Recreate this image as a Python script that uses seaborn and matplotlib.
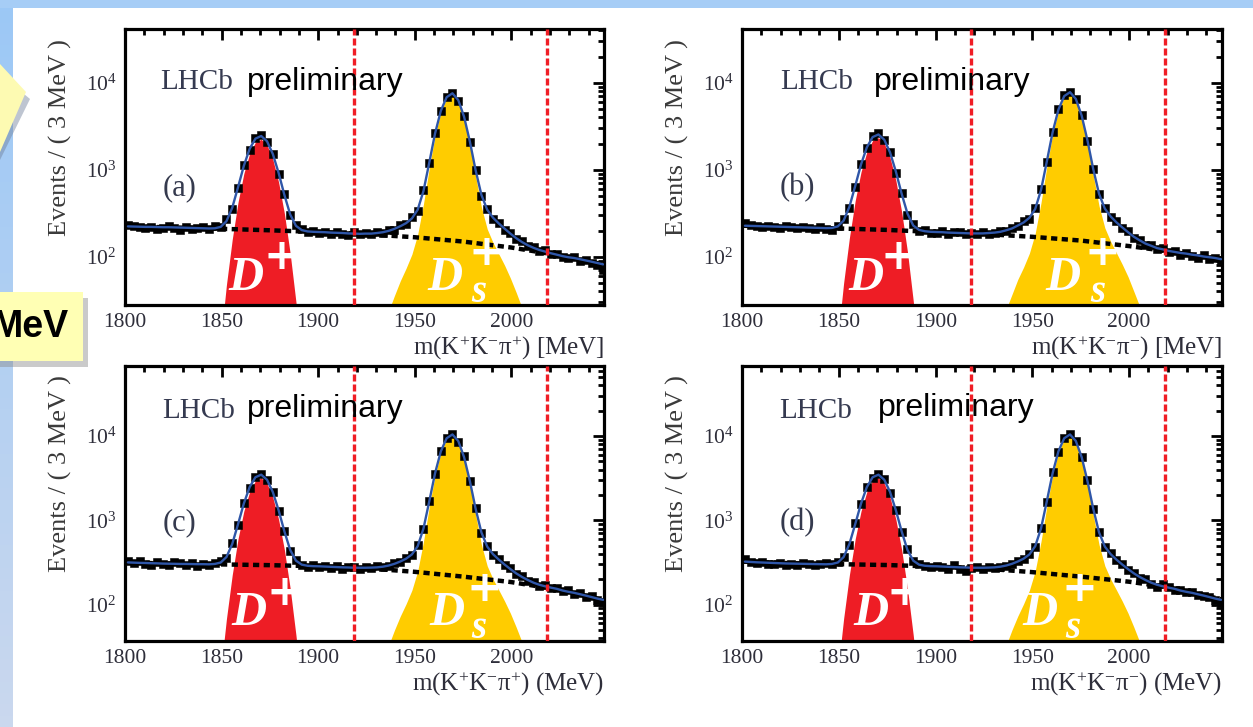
import numpy as np
import matplotlib
matplotlib.use("Agg")
import matplotlib.pyplot as plt
import seaborn as sns
from matplotlib.ticker import MultipleLocator, LogLocator, NullFormatter
from matplotlib.patches import Rectangle, Polygon
from matplotlib.colors import LinearSegmentedColormap

# ---------------- data (3 MeV bins, 1800-2049 MeV) ----------------
bin_width = 3.0
bin_centers = np.arange(1801.5, 2048.0, bin_width)   # 83 bins

data_a = [232, 226, 218, 214, 222, 210, 216, 224, 212, 205, 219, 208, 216, 221, 209,
          224, 218, 270, 352, 618, 1130, 1710, 2310, 2490, 2090, 1540, 905, 530, 300, 232, 208, 191, 199,
          188, 195, 184, 192, 183, 178, 192,
          181, 190, 182, 193, 186, 203, 206, 231, 240, 284, 340, 585, 1190, 2650, 4720, 6950,
          7650, 6250, 4150, 2090, 1005, 505, 356, 275, 248, 206, 190, 160, 152, 132, 130, 117, 119, 107, 109,
          100, 97, 99, 90, 93, 84, 80, 70]
fit_a = [224, 223, 222, 221, 221, 220, 219, 219, 218, 217, 216, 215, 214, 213, 212,
         213, 221, 257, 367, 632, 1112, 1742, 2283, 2447, 2130, 1522, 922, 514, 307, 227, 203, 196, 194,
         193, 192, 190, 189, 188, 186, 185,
         184, 185, 185, 188, 192, 199, 210, 225, 244, 276, 348, 571, 1210, 2618, 4774, 6828,
         7576, 6337, 4093, 2123, 989, 515, 348, 282, 242, 211, 185, 164, 148, 136, 127, 120, 115, 110, 106,
         102, 99, 97, 94, 91, 88, 85, 82]

data_b = [245, 230, 224, 219, 228, 221, 215, 226, 219, 212, 222, 216, 208, 220, 211,
          205, 229, 272, 360, 640, 1180, 1790, 2420, 2620, 2180, 1610, 930, 545, 305, 236, 199, 203, 190,
          186, 196, 183, 191, 193, 181, 189,
          182, 193, 184, 187, 199, 196, 216, 224, 256, 275, 362, 598, 1230, 2740, 4980, 7150,
          7900, 6450, 4280, 2150, 1030, 522, 366, 284, 256, 212, 196, 166, 158, 137, 138, 124, 126, 113, 117,
          106, 111, 102, 98, 104, 95, 97, 91]
fit_b = [228, 227, 226, 225, 224, 223, 222, 221, 220, 219, 218, 217, 216, 215, 214,
         215, 224, 261, 376, 653, 1155, 1813, 2378, 2548, 2219, 1583, 956, 530, 314, 229, 204, 197, 194,
         193, 192, 190, 189, 188, 187, 186,
         186, 186, 188, 190, 194, 202, 212, 229, 248, 281, 355, 585, 1243, 2694, 4914, 7031,
         7801, 6526, 4214, 2186, 1018, 530, 358, 291, 249, 218, 192, 170, 155, 142, 134, 126, 122, 117, 114,
         111, 109, 106, 104, 101, 99, 97, 94]

data_c = [330, 312, 325, 305, 298, 318, 302, 295, 322, 308, 296, 310, 290, 305, 299,
          312, 330, 360, 540, 880, 1610, 2450, 3310, 3560, 2990, 2200, 1290, 755, 430, 340, 292, 281, 292,
          276, 288, 272, 291, 268, 280, 282,
          268, 281, 270, 285, 276, 290, 312, 318, 362, 385, 505, 785, 1710, 3560, 6700, 9600,
          10600, 8600, 5750, 2900, 1400, 705, 495, 390, 350, 292, 270, 230, 218, 192, 186, 168, 170, 156, 158,
          145, 148, 135, 138, 124, 126, 115, 108]
fit_c = [317, 315, 313, 312, 310, 309, 307, 306, 305, 304, 304, 303, 302, 302, 301,
         304, 316, 367, 525, 902, 1585, 2482, 3251, 3485, 3036, 2171, 1319, 739, 445, 332, 298, 289, 286,
         285, 283, 281, 279, 277, 276, 274,
         274, 274, 275, 277, 282, 291, 305, 325, 351, 394, 493, 800, 1681, 3624, 6598, 9432,
         10464, 8753, 5655, 2938, 1373, 719, 488, 397, 342, 299, 264, 235, 213, 196, 182, 172, 165, 159, 154,
         147, 142, 138, 133, 128, 123, 118, 114]

data_d = [345, 318, 310, 322, 305, 300, 316, 298, 304, 296, 308, 300, 292, 303, 311,
          300, 322, 372, 515, 920, 1560, 2520, 3200, 3540, 3080, 2130, 1340, 720, 455, 325, 305, 284, 278,
          290, 282, 268, 296, 266, 252, 270,
          278, 266, 283, 272, 280, 286, 300, 330, 345, 402, 480, 815, 1650, 3700, 6500, 9500,
          10700, 8800, 5600, 2980, 1350, 735, 480, 405, 336, 305, 258, 240, 208, 200, 178, 160, 174, 162, 150,
          149, 140, 141, 130, 126, 122, 112, 104]
fit_d = [324, 321, 318, 316, 314, 312, 310, 308, 307, 306, 305, 304, 303, 302, 301,
         304, 316, 367, 525, 902, 1585, 2482, 3251, 3485, 3036, 2171, 1319, 739, 445, 332, 298, 289, 286,
         285, 283, 281, 279, 277, 276, 274,
         274, 274, 275, 277, 282, 291, 305, 325, 351, 394, 493, 800, 1681, 3624, 6598, 9432,
         10464, 8753, 5655, 2938, 1373, 719, 488, 397, 342, 299, 264, 235, 213, 196, 182, 172, 165, 159, 154,
         147, 142, 138, 133, 128, 123, 118, 114]

# combinatorial background component (dotted)
bkg_x = [1800, 1825, 1850, 1875, 1900, 1925, 1950, 1975, 2000, 2025, 2050]
bkg_a = [224, 218, 210, 202, 193, 182, 168, 150, 128, 104, 80]
bkg_b = [228, 220, 212, 204, 193, 183, 170, 154, 133, 112, 92]
bkg_c = [318, 305, 300, 294, 285, 270, 245, 215, 185, 150, 110]
bkg_d = [325, 310, 302, 295, 283, 268, 243, 215, 187, 155, 112]

# signal components (filled): D+ on bins 15..31, Ds+ on bins 41..71
dp_a = [2, 11, 48, 159, 425, 906, 1537, 2079, 2243, 1928, 1321, 722, 315, 109, 30, 7, 1.2]
dp_b = [2, 11.5, 50, 166, 444, 947, 1606, 2173, 2344, 2015, 1380, 754, 329, 114, 31, 7, 1.3]
dp_c = [3, 16, 68, 226, 604, 1288, 2186, 2956, 3190, 2742, 1878, 1027, 448, 155, 43, 10, 2]
dp_d = [3, 16, 68, 226, 604, 1288, 2186, 2956, 3190, 2742, 1878, 1027, 448, 155, 43, 10, 2]
ds_a = [3, 5.4, 9.3, 15, 24, 36, 53, 74, 107, 181, 406, 1047, 2457, 4615, 6672, 7422, 6185, 3943,
        1976, 845, 373, 209, 146, 108, 80, 57, 39, 26, 16.6, 10.3, 6.1]
ds_b = [3.1, 5.6, 9.6, 15.5, 25, 37, 55, 76, 110, 186, 418, 1078, 2531, 4753, 6872, 7645, 6371, 4061,
        2035, 870, 384, 215, 150, 111, 82, 59, 40, 27, 17, 10.6, 6.3]
ds_c = [4.1, 7.5, 12.8, 20.7, 33, 50, 73, 102, 148, 250, 560, 1445, 3391, 6369, 9207, 10242, 8535, 5441,
        2727, 1166, 515, 288, 201, 149, 110, 79, 54, 36, 23, 14.2, 8.4]
ds_d = [4.1, 7.5, 12.8, 20.7, 33, 50, 73, 102, 148, 250, 560, 1445, 3391, 6369, 9207, 10242, 8535, 5441,
        2727, 1166, 515, 288, 201, 149, 110, 79, 54, 36, 23, 14.2, 8.4]

window_lines = [1918.5, 2018.5]
x_ticks_major = [1800, 1850, 1900, 1950, 2000]
tags = ["(a)", "(b)", "(c)", "(d)"]
xlabels = ["m(K$^{+}$K$^{-}$π$^{+}$) [MeV]", "m(K$^{+}$K$^{-}$π$^{-}$) [MeV]",
           "m(K$^{+}$K$^{-}$π$^{+}$) (MeV)", "m(K$^{+}$K$^{-}$π$^{-}$) (MeV)"]
ylabel = "Events / ( 3 MeV )"

# ---------------- style ----------------
sns.set_theme(style="white")
plt.rcParams["font.family"] = ["Liberation Serif", "DejaVu Serif"]
plt.rcParams["mathtext.fontset"] = "custom"
plt.rcParams["mathtext.rm"] = "Liberation Serif"
plt.rcParams["mathtext.it"] = "Liberation Serif:italic"
plt.rcParams["mathtext.bf"] = "Liberation Serif:bold"

fig = plt.figure(figsize=(12.53, 7.27), dpi=100)
fig.patch.set_facecolor("white")

# slide decoration (background)
deco = fig.add_axes([0, 0, 1, 1], zorder=-10)
grad = np.linspace(0, 1, 64).reshape(-1, 1)
side_cmap = LinearSegmentedColormap.from_list("side", ["#9cc8f6", "#cad8ee"])
deco.imshow(grad, extent=[0, 13, 727, 0], cmap=side_cmap, aspect="auto")
deco.add_patch(Rectangle((0, 0), 1253, 8, color="#a6cdf6", lw=0))
deco.add_patch(Polygon([(0, 74), (30, 99), (0, 160)], closed=True, color="#6f7f99", alpha=0.45, lw=0))
deco.add_patch(Polygon([(0, 64), (26, 92), (0, 152)], closed=True, color="#fdfab2", lw=0))
deco.add_patch(Rectangle((0, 298), 88, 69, color="#8a8a8a", alpha=0.45, lw=0))
deco.add_patch(Rectangle((0, 292), 83, 69, color="#ffffb4", lw=0))
deco.text(69, 327, "MeV", ha="right", va="center", fontsize=27, fontweight="bold",
          family="Liberation Sans", color="black")
deco.set_xlim(0, 1253)
deco.set_ylim(727, 0)
deco.axis("off")

positions = [[0.0998, 0.5805, 0.3823, 0.3796], [0.5922, 0.5805, 0.3830, 0.3796],
             [0.0998, 0.1183, 0.3823, 0.3783], [0.5922, 0.1183, 0.3830, 0.3783]]
ylims = [(28, 41500), (28, 41500), (37, 68000), (37, 68000)]
datas = [data_a, data_b, data_c, data_d]
fits = [fit_a, fit_b, fit_c, fit_d]
bkgs = [bkg_a, bkg_b, bkg_c, bkg_d]
dps = [dp_a, dp_b, dp_c, dp_d]
dss = [ds_a, ds_b, ds_c, ds_d]

# text placement: (x in MeV, y in axes fraction)
tag_pos = [(1819.5, 0.424), (1819.5, 0.424), (1819.5, 0.43), (1819.5, 0.43)]
lhcb_pos = [(1818, 0.808), (1819.5, 0.808), (1819, 0.835), (1819, 0.838)]
prel_pos = [(1863, 0.808), (1868, 0.808), (1863, 0.845), (1870, 0.848)]
dpD_x = [1853.3, 1854.8, 1854.8, 1857.4]
dpP_x = [1881, 1881, 1882.5, 1884]
dsD_x = [1956.7, 1956.7, 1957.8, 1944.9]
dsP_x = [1987, 1986, 1986, 1974.3]
dsS_x = [1983, 1984, 1983, 1971]

tick_col = "#2e2e3a"
for i in range(4):
    ax = fig.add_axes(positions[i])
    ax.set_facecolor("white")
    ax.set_yscale("log")
    dfx = bin_centers
    # signal fills
    ax.fill_between(dfx[15:32], 1, dps[i], color="#ee1d25", lw=0, zorder=1)
    ax.fill_between(dfx[41:72], 1, dss[i], color="#ffcc00", lw=0, zorder=1)
    # background component
    ax.plot(bkg_x, bkgs[i], color="black", lw=3.2, dashes=(1.4, 1.0), zorder=3)
    # data points
    sns.scatterplot(x=dfx, y=datas[i], ax=ax, marker="s", s=40, color="black",
                    edgecolor="black", linewidth=0.4, zorder=4, legend=False)
    # total fit
    sns.lineplot(x=dfx, y=fits[i], ax=ax, color="#2f56a8", lw=1.7, zorder=5, legend=False)
    # mass window lines
    for xv in window_lines:
        ax.axvline(xv, color="#f01d25", lw=2.4, dashes=(2.1, 0.9), zorder=6)

    ax.set_xlim(1800, 2048)
    ax.set_ylim(*ylims[i])
    ax.xaxis.set_major_locator(plt.FixedLocator(x_ticks_major))
    ax.xaxis.set_minor_locator(MultipleLocator(10))
    ax.yaxis.set_major_locator(LogLocator(base=10, numticks=10))
    ax.yaxis.set_minor_locator(LogLocator(base=10, subs=np.arange(2, 10), numticks=50))
    ax.yaxis.set_minor_formatter(NullFormatter())
    ax.tick_params(which="both", direction="in", top=True, right=True, width=2,
                   colors="black", labelcolor=tick_col, labelsize=15.5, pad=6)
    ax.tick_params(which="major", length=8)
    ax.tick_params(which="minor", length=4)
    for sp in ax.spines.values():
        sp.set_linewidth(2.3)
        sp.set_color("black")
        sp.set_visible(True)
    ax.grid(False)

    ax.set_xlabel(xlabels[i], fontsize=18, color=tick_col, loc="right")
    ax.xaxis.set_label_coords(1.0, -0.105)
    ax.set_ylabel(ylabel, fontsize=19, color="#3a3a3a")
    ax.yaxis.set_label_coords(-0.11, 0.607)

    tr = ax.get_xaxis_transform()
    ax.text(tag_pos[i][0], tag_pos[i][1], tags[i], transform=tr, fontsize=22,
            color="#353a4e", ha="left", va="center", zorder=7)
    ax.text(lhcb_pos[i][0], lhcb_pos[i][1], "LHCb", transform=tr, fontsize=21,
            color="#353a50", ha="left", va="center", zorder=7)
    ax.text(prel_pos[i][0], prel_pos[i][1], "preliminary", transform=tr, fontsize=23,
            family="Liberation Sans", color="black", ha="left", va="center", zorder=7)
    # signal labels
    yb = 0.054 if i < 2 else 0.058
    ax.text(dpD_x[i], yb, "D", transform=tr, fontsize=35, fontweight="bold", fontstyle="italic",
            color="white", ha="left", va="baseline", zorder=7)
    ax.text(dpP_x[i], 0.175, "+", transform=tr, fontsize=31, fontweight="bold",
            family="DejaVu Sans", color="white", ha="center", va="center", zorder=7)
    ax.text(dsD_x[i], yb, "D", transform=tr, fontsize=35, fontweight="bold", fontstyle="italic",
            color="white", ha="left", va="baseline", zorder=7)
    ax.text(dsP_x[i], 0.19, "+", transform=tr, fontsize=31, fontweight="bold",
            family="DejaVu Sans", color="white", ha="center", va="center", zorder=7)
    ax.text(dsS_x[i], 0.012, "s", transform=tr, fontsize=28, fontweight="bold", fontstyle="italic",
            color="white", ha="center", va="baseline", zorder=7)

fig.savefig("out.png", dpi=100, facecolor="white")
